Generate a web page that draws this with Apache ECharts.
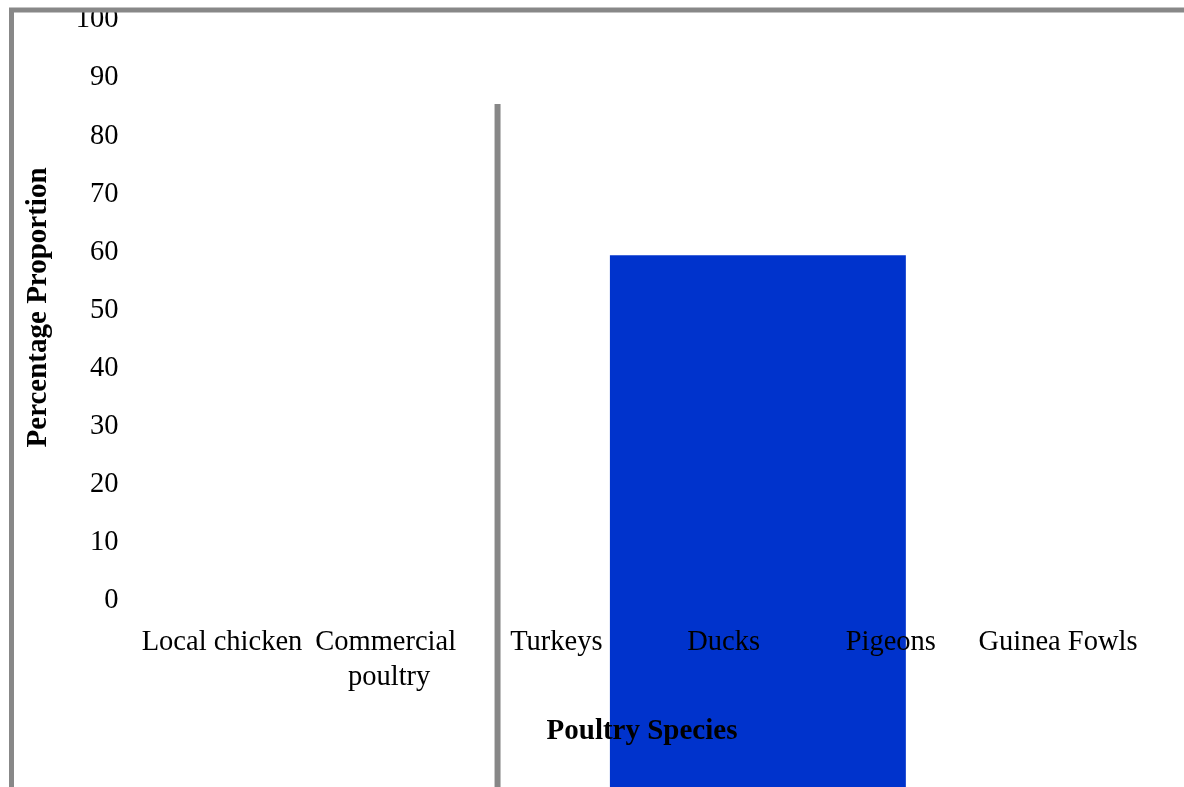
<!DOCTYPE html>
<html>
<head>
<meta charset="utf-8">
<script src="https://cdn.jsdelivr.net/npm/echarts@6/dist/echarts.min.js"></script>
<style>
  html, body { margin: 0; padding: 0; background: #fff; }
  #chart { width: 1184px; height: 787px; }
</style>
</head>
<body>
<div id="chart"></div>
<script>
var categories = ['Local chicken', 'Commercial poultry', 'Turkeys', 'Ducks', 'Pigeons', 'Guinea Fowls'];
var yTicks = [0, 10, 20, 30, 40, 50, 60, 70, 80, 90, 100];
// the odd blue block: [start, end] on band units, and its top value
var barSpan = [2.82, 4.59];
var barValue = [59];
// the thin grey bar near Turkeys
var lineX = [2.148];
var lineValue = [85];
var floorValue = -36;

var font = 'Liberation Serif, Times New Roman, serif';
var myChart = echarts.init(document.getElementById('chart'));

myChart.setOption({
    animation: false,
    grid: [
        // outer frame, only left and top edges are on screen
        {left: 11.5, top: 10, right: -40, bottom: -40, outerBoundsMode: 'none', show: true, borderColor: '#888888', borderWidth: 5, backgroundColor: 'transparent', zlevel: 1},
        // plot area
        {left: 138.4, top: 16.9, right: 42.4, bottom: 189, outerBoundsMode: 'none'}
    ],
    xAxis: [
        {gridIndex: 0, type: 'value', show: false},
        {
            gridIndex: 1,
            type: 'category',
            data: categories,
            z: 3,
            axisLine: {show: false},
            axisTick: {show: false},
            splitLine: {show: false},
            axisLabel: {
                interval: 0,
                margin: 27,
                color: '#000',
                fontFamily: font,
                fontSize: 28.5,
                lineHeight: 35,
                width: 165,
                overflow: 'break'
            },
            name: 'Poultry Species',
            nameLocation: 'middle',
            nameGap: 134,
            nameTextStyle: {color: '#000', fontFamily: font, fontSize: 29, fontWeight: 'bold', verticalAlign: 'middle', padding: [0, 0, 0, 4]}
        },
        {gridIndex: 1, type: 'value', min: 0, max: categories.length, show: false}
    ],
    yAxis: [
        {gridIndex: 0, type: 'value', show: false},
        {
            gridIndex: 1,
            type: 'value',
            min: yTicks[0],
            max: yTicks[yTicks.length - 1],
            interval: 10,
            z: 3,
            axisLine: {show: false},
            axisTick: {show: false},
            splitLine: {show: false},
            axisLabel: {margin: 20, color: '#000', fontFamily: font, fontSize: 28.5, verticalAlign: 'top', lineHeight: 6},
            name: 'Percentage Proportion',
            nameLocation: 'middle',
            nameGap: 100,
            nameTextStyle: {color: '#000', fontFamily: font, fontSize: 29, fontWeight: 'bold', verticalAlign: 'middle'}
        }
    ],
    series: [
        {
            type: 'custom',
            xAxisIndex: 2,
            yAxisIndex: 1,
            clip: false,
            z: 1,
            data: [[barSpan[0], barSpan[1], barValue[0]]],
            renderItem: function (params, api) {
                var p0 = api.coord([api.value(0), api.value(2)]);
                var p1 = api.coord([api.value(1), floorValue]);
                return {
                    type: 'rect',
                    shape: {x: p0[0], y: p0[1], width: p1[0] - p0[0], height: p1[1] - p0[1]},
                    style: {fill: '#0033cc'}
                };
            }
        },
        {
            type: 'custom',
            xAxisIndex: 2,
            yAxisIndex: 1,
            clip: false,
            z: 1,
            data: [[lineX[0], lineValue[0]]],
            renderItem: function (params, api) {
                var top = api.coord([api.value(0), api.value(1)]);
                var bottom = api.coord([api.value(0), floorValue]);
                return {
                    type: 'line',
                    shape: {x1: top[0], y1: top[1], x2: bottom[0], y2: bottom[1]},
                    style: {stroke: '#878787', lineWidth: 6}
                };
            }
        }
    ]
});
</script>
</body>
</html>
